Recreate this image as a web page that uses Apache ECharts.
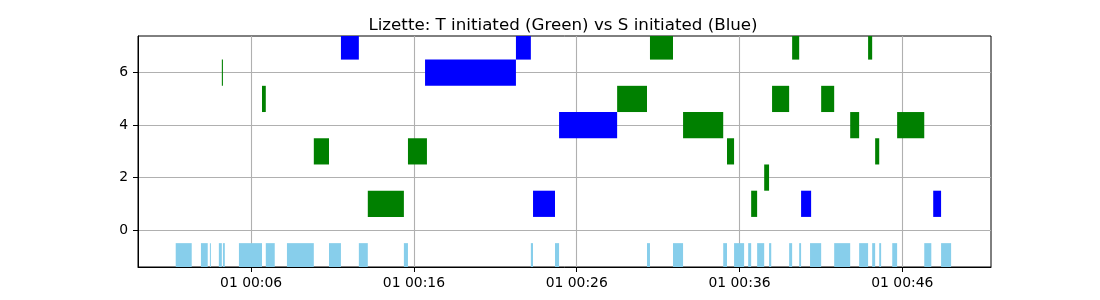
<!DOCTYPE html>
<html>
<head>
<meta charset="utf-8">
<script src="https://cdn.jsdelivr.net/npm/echarts@6/dist/echarts.min.js"></script>
<style>html,body{margin:0;padding:0;background:#fff}#c{width:1100px;height:300px}</style>
</head>
<body>
<div id="c"></div>
<script>
// Times are seconds after 01 00:00; each block is [start, end, row]
const titleText = 'Lizette: T initiated (Green) vs S initiated (Blue)';
const greenBlocks = [
  [1830, 1915, 7], [2354, 2380, 7], [2634, 2649, 7],
  [252, 256, 6],
  [400, 414, 5], [1709, 1819, 5], [2280, 2343, 5], [2461, 2509, 5],
  [1952, 2100, 4], [2568, 2601, 4], [2741, 2841, 4],
  [591, 647, 3], [938, 1008, 3], [2114, 2140, 3], [2660, 2675, 3],
  [2251, 2269, 2],
  [790, 923, 1], [2203, 2225, 1]
];
const blueBlocks = [
  [691, 757, 7], [1336, 1391, 7],
  [1001, 1336, 6],
  [1495, 1709, 4],
  [1399, 1480, 1], [2387, 2424, 1], [2874, 2903, 1]
];
const gapBlocks = [
  [82, 141, -1], [175, 200, -1], [208, 211, -1], [241, 252, -1], [256, 263, -1],
  [315, 400, -1], [414, 447, -1], [492, 591, -1], [647, 691, -1], [757, 790, -1],
  [923, 938, -1], [1391, 1399, -1], [1480, 1495, -1], [1819, 1830, -1], [1915, 1952, -1],
  [2100, 2114, -1], [2140, 2177, -1], [2192, 2203, -1], [2225, 2251, -1], [2269, 2277, -1],
  [2343, 2354, -1], [2380, 2387, -1], [2420, 2461, -1], [2509, 2568, -1], [2601, 2634, -1],
  [2649, 2660, -1], [2675, 2682, -1], [2723, 2741, -1], [2841, 2867, -1], [2903, 2940, -1]
];
const xTickValues = [360, 960, 1560, 2160, 2760];
const yTickValues = [0, 2, 4, 6];
const xRange = [-57, 3087];
const yRange = [-1.41, 7.40];

function fmtTime(v) {
  const m = Math.floor(v / 60), h = Math.floor(m / 60);
  const mm = String(m % 60).padStart(2, '0'), hh = String(h).padStart(2, '0');
  return '01 ' + hh + ':' + mm;
}

function renderItem(params, api) {
  const y = api.value(2);
  const s = api.coord([api.value(0), y]);
  const e = api.coord([api.value(1), y]);
  const h = api.size([0, 1])[1];
  const cs = params.coordSys;
  const rect = echarts.graphic.clipRectByRect(
    { x: s[0], y: s[1] - h / 2, width: Math.max(e[0] - s[0], 1), height: h },
    { x: cs.x, y: cs.y, width: cs.width, height: cs.height }
  );
  return rect && { type: 'rect', shape: rect, style: api.style() };
}

function series(name, data, color) {
  return {
    name: name, type: 'custom', renderItem: renderItem, data: data,
    encode: { x: [0, 1], y: 2 },
    itemStyle: { color: color },
    clip: true, silent: true, animation: false
  };
}

const font = 'DejaVu Sans';
const chart = echarts.init(document.getElementById('c'), null, { renderer: 'canvas' });
chart.setOption({
  animation: false,
  backgroundColor: '#fff',
  title: {
    text: titleText, left: 558, top: 12, textAlign: 'center',
    textStyle: { fontFamily: font, fontSize: 16.7, fontWeight: 'normal', color: '#000' }
  },
  grid: {
    left: 138, right: 109, top: 36, bottom: 33,
    show: true, borderColor: '#000', borderWidth: 1, backgroundColor: 'transparent'
  },
  xAxis: {
    type: 'value', min: xRange[0], max: xRange[1],
    axisLine: { show: true, onZero: false, lineStyle: { color: '#000', width: 1 } },
    axisTick: { show: true, length: 5, inside: false, customValues: xTickValues, lineStyle: { color: '#000' } },
    axisLabel: { customValues: xTickValues, formatter: fmtTime, margin: 9,
      fontFamily: font, fontSize: 13.9, color: '#000' },
    splitLine: { show: true, lineStyle: { color: '#b0b0b0', width: 1.1 } }
  },
  yAxis: {
    type: 'value', min: yRange[0], max: yRange[1],
    axisLine: { show: true, onZero: false, lineStyle: { color: '#000', width: 1 } },
    axisTick: { show: true, length: 5, inside: false, customValues: yTickValues, lineStyle: { color: '#000' } },
    axisLabel: { customValues: yTickValues, margin: 10,
      fontFamily: font, fontSize: 13.9, color: '#000' },
    splitLine: { show: true, lineStyle: { color: '#b0b0b0', width: 1.1 } }
  },
  series: [
    series('gaps', gapBlocks, '#87ceeb'),
    series('T initiated', greenBlocks, '#008000'),
    series('S initiated', blueBlocks, '#0000ff')
  ]
});
</script>
</body>
</html>
